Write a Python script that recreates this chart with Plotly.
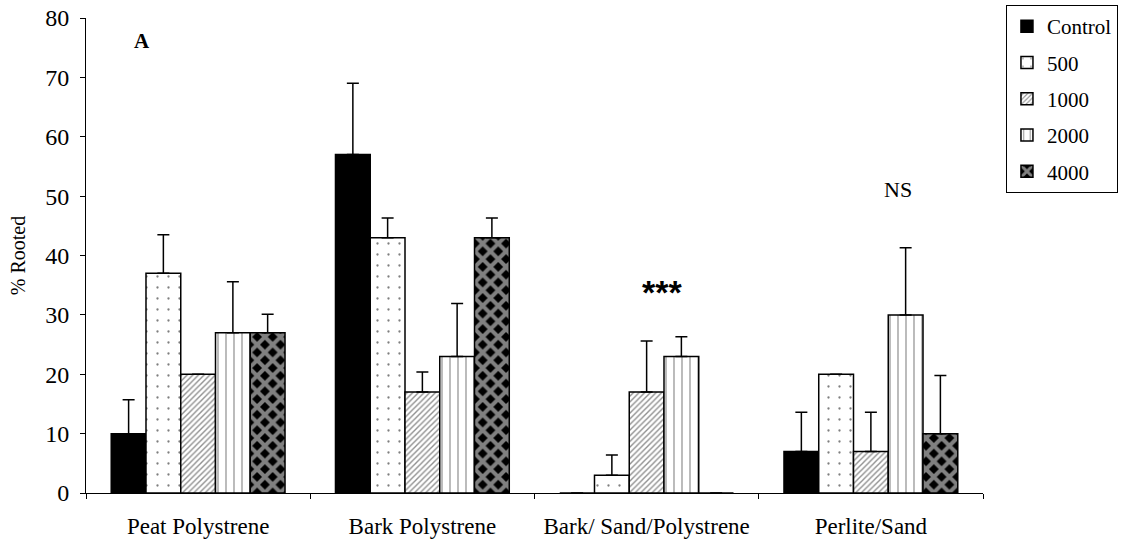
import plotly.graph_objects as go

# Rooting percentage by propagation medium and IBA concentration
media = ["Peat Polystrene", "Bark Polystrene", "Bark/ Sand/Polystrene", "Perlite/Sand"]

control = [10, 57, 0, 7]
ppm_500 = [37, 43, 3, 20]
ppm_1000 = [20, 17, 17, 7]
ppm_2000 = [27, 23, 23, 30]
ppm_4000 = [27, 43, 0, 10]

# upper standard errors (None = no bar)
err_control = [5.7, 12, None, 6.6]
err_500 = [6.5, 3.3, 3.4, None]
err_1000 = [None, 3.4, 8.6, 6.6]
err_2000 = [8.6, 8.9, 3.3, 11.3]
err_4000 = [3.1, 3.3, None, 9.8]

series_names = ["Control", "500", "1000", "2000", "4000"]
series_values = [control, ppm_500, ppm_1000, ppm_2000, ppm_4000]
series_errors = [err_control, err_500, err_1000, err_2000, err_4000]

SERIF = "Liberation Serif, Times New Roman, serif"

patterns = [
    dict(shape=""),
    dict(shape=".", size=11, solidity=0.035, fgcolor="black", bgcolor="white"),
    dict(shape="/", size=4, solidity=0.35, fgcolor="#222222", bgcolor="white"),
    dict(shape="|", size=8, solidity=0.16, fgcolor="#2a2a2a", bgcolor="white"),
    dict(shape="x", size=11, solidity=0.6, fgcolor="white", bgcolor="black"),
]
fills = ["black", "white", "white", "white", "black"]

fig = go.Figure()
for name, vals, errs, pat, fill in zip(series_names, series_values, series_errors, patterns, fills):
    fig.add_trace(go.Bar(
        name=name,
        x=media,
        y=vals,
        legendgroup=name,
        marker=dict(color=fill, line=dict(color="black", width=1.5), pattern=pat),
        error_y=dict(type="data", symmetric=False,
                     array=[e if e is not None else float("nan") for e in errs],
                     arrayminus=[0] * len(errs),
                     color="black", thickness=1.5, width=6),
    ))

fig.update_layout(
    width=1123, height=543,
    margin=dict(l=86, r=140, t=18, b=50, autoexpand=False),
    paper_bgcolor="white", plot_bgcolor="white",
    barmode="group", bargap=0.225, bargroupgap=0,
    font=dict(family=SERIF, color="black", size=23),
    showlegend=True,
    legend=dict(
        x=1.0256, y=1.0274, xanchor="left", yanchor="top",
        bordercolor="black", borderwidth=1, bgcolor="white",
        font=dict(family=SERIF, size=21, color="black"),
        tracegroupgap=6,
    ),
    xaxis=dict(
        type="category", showline=True, linecolor="black", linewidth=1,
        ticks="outside", ticklen=5, tickcolor="black", tickson="boundaries",
        showgrid=False, zeroline=False, ticklabelstandoff=12,
        tickfont=dict(family=SERIF, size=23),
    ),
    yaxis=dict(
        range=[0, 80], dtick=10, showline=True, linecolor="black", linewidth=1,
        ticks="outside", ticklen=5, tickcolor="black",
        showgrid=False, zeroline=False, ticklabelstandoff=6,
        tickfont=dict(family=SERIF, size=24),
        title=dict(text="% Rooted", font=dict(family=SERIF, size=20), standoff=14),
    ),
    annotations=[
        dict(text="<b>A</b>", x=0.0624, y=0.9516, xref="paper", yref="paper",
             xanchor="center", yanchor="middle",
             showarrow=False, font=dict(family=SERIF, size=21)),
        dict(text="NS", x=0.905, y=0.638, xref="paper", yref="paper",
             xanchor="center", yanchor="middle",
             showarrow=False, font=dict(family=SERIF, size=22)),
        dict(text="<b>***</b>", x=0.642, y=0.423, xref="paper", yref="paper",
             xanchor="center", yanchor="middle",
             showarrow=False, font=dict(family="Liberation Sans, Arial, sans-serif", size=34)),
    ],
)

fig.write_html("out.html")
